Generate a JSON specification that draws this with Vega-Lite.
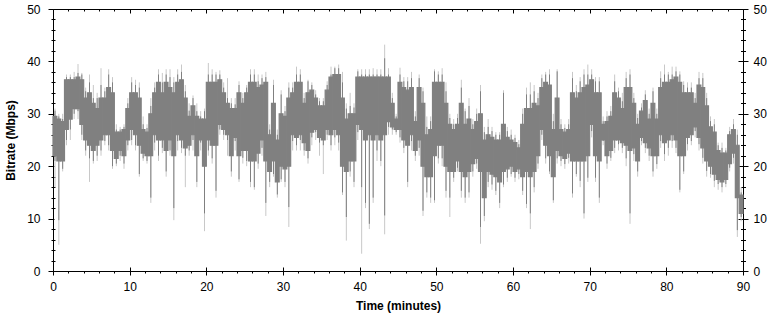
{
"$schema": "https://vega.github.io/schema/vega-lite/v6.json",
"width": 690, "height": 262,
"autosize": {"type": "none"},
"padding": {"left": 53, "top": 9, "right": 29, "bottom": 49},
"background": "white",
"config": {"view": {"stroke": null}, "axis": {"domainColor": "#000", "tickColor": "#000", "labelColor": "#000", "titleColor": "#000", "labelFont": "Liberation Sans", "titleFont": "Liberation Sans", "labelFontSize": 12, "titleFontSize": 12, "titleFontWeight": "bold", "grid": false, "domainWidth": 1, "tickWidth": 1, "labelFlush": false, "labelOverlap": false}},
"datasets": {"d": [
{"t":0,"t1":0.5,"lo":21,"hi":30.6,"llo":16,"lhi":31,"clo":22,"chi":29.5},
{"t":0.5,"t1":1,"lo":9.7,"hi":29.5,"llo":5,"lhi":30,"clo":21,"chi":29},
{"t":1,"t1":1.5,"lo":19.5,"hi":29,"llo":19,"lhi":30,"clo":21,"chi":28.5},
{"t":1.5,"t1":2,"lo":25,"hi":37,"llo":24,"lhi":37.5,"clo":27,"chi":36.5},
{"t":2,"t1":2.5,"lo":27,"hi":37,"llo":25,"lhi":37.5,"clo":29,"chi":36.5},
{"t":2.5,"t1":3,"lo":30,"hi":37,"llo":29,"lhi":38,"clo":31,"chi":36.5},
{"t":3,"t1":3.5,"lo":30.5,"hi":37.8,"llo":29,"lhi":39.5,"clo":31,"chi":37},
{"t":3.5,"t1":4,"lo":26,"hi":37.5,"llo":25,"lhi":37.8,"clo":28,"chi":36.5},
{"t":4,"t1":4.5,"lo":23,"hi":34.3,"llo":22,"lhi":35,"clo":25,"chi":33},
{"t":4.5,"t1":5,"lo":21.5,"hi":36,"llo":17,"lhi":37.5,"clo":24,"chi":34},
{"t":5,"t1":5.5,"lo":21,"hi":33,"llo":20.5,"lhi":35.5,"clo":23,"chi":32},
{"t":5.5,"t1":6,"lo":22,"hi":33,"llo":21,"lhi":34,"clo":24,"chi":31},
{"t":6,"t1":6.5,"lo":23,"hi":35.5,"llo":22,"lhi":38.7,"clo":25,"chi":33},
{"t":6.5,"t1":7,"lo":24.8,"hi":34.3,"llo":24,"lhi":35,"clo":26,"chi":33},
{"t":7,"t1":7.5,"lo":24,"hi":37.5,"llo":23,"lhi":38.5,"clo":26,"chi":35},
{"t":7.5,"t1":8,"lo":20,"hi":36,"llo":19.5,"lhi":37,"clo":23,"chi":34},
{"t":8,"t1":8.5,"lo":20.5,"hi":27,"llo":20,"lhi":28,"clo":21.5,"chi":26.5},
{"t":8.5,"t1":9,"lo":22,"hi":27,"llo":21,"lhi":27.5,"clo":23,"chi":26.5},
{"t":9,"t1":9.5,"lo":20.5,"hi":27.5,"llo":19.5,"lhi":28,"clo":22,"chi":27},
{"t":9.5,"t1":10,"lo":24,"hi":32,"llo":23,"lhi":33,"clo":25,"chi":31},
{"t":10,"t1":10.5,"lo":25,"hi":36,"llo":24,"lhi":37,"clo":27,"chi":34},
{"t":10.5,"t1":11,"lo":24,"hi":35.5,"llo":23,"lhi":36.5,"clo":26,"chi":34},
{"t":11,"t1":11.5,"lo":18.5,"hi":35,"llo":18,"lhi":36,"clo":24,"chi":33},
{"t":11.5,"t1":12,"lo":21.5,"hi":28,"llo":21,"lhi":29.5,"clo":22.5,"chi":27},
{"t":12,"t1":12.5,"lo":21,"hi":27.3,"llo":20.5,"lhi":28,"clo":22,"chi":26.5},
{"t":12.5,"t1":13,"lo":14,"hi":31.5,"llo":13,"lhi":33,"clo":22,"chi":30},
{"t":13,"t1":13.5,"lo":24.5,"hi":35,"llo":23,"lhi":36,"clo":26,"chi":34},
{"t":13.5,"t1":14,"lo":22,"hi":37.5,"llo":21,"lhi":38.5,"clo":25,"chi":36},
{"t":14,"t1":14.5,"lo":23.5,"hi":36,"llo":22.5,"lhi":37.8,"clo":25,"chi":34},
{"t":14.5,"t1":15,"lo":19,"hi":37.5,"llo":18,"lhi":38.5,"clo":23,"chi":36},
{"t":15,"t1":15.5,"lo":23,"hi":37,"llo":22,"lhi":38.5,"clo":25,"chi":35},
{"t":15.5,"t1":16,"lo":12,"hi":36,"llo":9.7,"lhi":37,"clo":22,"chi":34},
{"t":16,"t1":16.5,"lo":24.8,"hi":37.5,"llo":23,"lhi":38.5,"clo":26,"chi":36},
{"t":16.5,"t1":17,"lo":23.5,"hi":38,"llo":22.5,"lhi":39.4,"clo":25,"chi":36.5},
{"t":17,"t1":17.5,"lo":22,"hi":34.3,"llo":16,"lhi":35.5,"clo":23.5,"chi":33},
{"t":17.5,"t1":18,"lo":23,"hi":30.6,"llo":22,"lhi":32,"clo":24,"chi":29.5},
{"t":18,"t1":18.5,"lo":25,"hi":33,"llo":23,"lhi":33.5,"clo":26,"chi":31.5},
{"t":18.5,"t1":19,"lo":17,"hi":30.5,"llo":16,"lhi":32,"clo":22,"chi":29.5},
{"t":19,"t1":19.5,"lo":24.5,"hi":29.5,"llo":23,"lhi":30.5,"clo":25,"chi":29},
{"t":19.5,"t1":20,"lo":11,"hi":30.5,"llo":7.6,"lhi":31,"clo":20,"chi":29},
{"t":20,"t1":20.5,"lo":23,"hi":37.5,"llo":22,"lhi":39.7,"clo":25,"chi":36},
{"t":20.5,"t1":21,"lo":21.5,"hi":37.5,"llo":20.5,"lhi":38.5,"clo":24,"chi":36},
{"t":21,"t1":21.5,"lo":15.3,"hi":37.5,"llo":14,"lhi":38,"clo":24,"chi":36},
{"t":21.5,"t1":22,"lo":27,"hi":37.5,"llo":26,"lhi":38.3,"clo":28,"chi":36.5},
{"t":22,"t1":22.5,"lo":26,"hi":35,"llo":25,"lhi":36,"clo":27,"chi":34},
{"t":22.5,"t1":23,"lo":25,"hi":33,"llo":22,"lhi":36.8,"clo":26,"chi":32},
{"t":23,"t1":23.5,"lo":19,"hi":32,"llo":18,"lhi":33,"clo":22,"chi":31},
{"t":23.5,"t1":24,"lo":24.8,"hi":31.8,"llo":23,"lhi":33,"clo":25.5,"chi":31},
{"t":24,"t1":24.5,"lo":17.5,"hi":35.5,"llo":17,"lhi":36.2,"clo":22,"chi":34},
{"t":24.5,"t1":25,"lo":21.6,"hi":33,"llo":20.5,"lhi":34,"clo":23,"chi":32},
{"t":25,"t1":25.5,"lo":21,"hi":35,"llo":20,"lhi":35.5,"clo":23,"chi":34},
{"t":25.5,"t1":26,"lo":17,"hi":37.5,"llo":16,"lhi":38.5,"clo":21,"chi":36},
{"t":26,"t1":26.5,"lo":16,"hi":37.5,"llo":15.5,"lhi":38.5,"clo":21,"chi":36},
{"t":26.5,"t1":27,"lo":20.5,"hi":36.2,"llo":19.5,"lhi":37.5,"clo":22.5,"chi":35},
{"t":27,"t1":27.5,"lo":23.5,"hi":36.8,"llo":22,"lhi":37.5,"clo":25,"chi":35.5},
{"t":27.5,"t1":28,"lo":13,"hi":37,"llo":10.5,"lhi":38,"clo":21,"chi":36},
{"t":28,"t1":28.5,"lo":17,"hi":27,"llo":16,"lhi":28,"clo":19,"chi":26},
{"t":28.5,"t1":29,"lo":18.5,"hi":35.5,"llo":18,"lhi":36.5,"clo":21,"chi":32},
{"t":29,"t1":29.5,"lo":14.6,"hi":26,"llo":14,"lhi":27,"clo":17,"chi":25},
{"t":29.5,"t1":30,"lo":17.5,"hi":33.7,"llo":17,"lhi":34.5,"clo":20,"chi":30},
{"t":30,"t1":30.5,"lo":17,"hi":30.5,"llo":16,"lhi":31.5,"clo":19.5,"chi":29.5},
{"t":30.5,"t1":31,"lo":12.2,"hi":35,"llo":8.4,"lhi":36,"clo":20,"chi":33},
{"t":31,"t1":31.5,"lo":24.8,"hi":35,"llo":23,"lhi":36,"clo":26,"chi":34},
{"t":31.5,"t1":32,"lo":24,"hi":37.5,"llo":23,"lhi":39,"clo":25.5,"chi":36},
{"t":32,"t1":32.5,"lo":25,"hi":37.5,"llo":23,"lhi":38.5,"clo":26,"chi":36},
{"t":32.5,"t1":33,"lo":23,"hi":33,"llo":22,"lhi":34,"clo":24.5,"chi":32},
{"t":33,"t1":33.5,"lo":21.5,"hi":36.2,"llo":20.5,"lhi":36.5,"clo":23,"chi":34},
{"t":33.5,"t1":34,"lo":25.5,"hi":35.5,"llo":24,"lhi":36,"clo":26.5,"chi":34.5},
{"t":34,"t1":34.5,"lo":26.5,"hi":33.7,"llo":25,"lhi":34.5,"clo":27,"chi":33},
{"t":34.5,"t1":35,"lo":24.5,"hi":32.4,"llo":22,"lhi":33,"clo":25.5,"chi":31.5},
{"t":35,"t1":35.5,"lo":24,"hi":32.4,"llo":18.5,"lhi":33,"clo":25,"chi":31.5},
{"t":35.5,"t1":36,"lo":26,"hi":35.5,"llo":25,"lhi":36.2,"clo":27,"chi":34.5},
{"t":36,"t1":36.5,"lo":24,"hi":37.5,"llo":23,"lhi":39,"clo":26,"chi":37},
{"t":36.5,"t1":37,"lo":25.5,"hi":38.7,"llo":24,"lhi":39,"clo":27,"chi":37.5},
{"t":37,"t1":37.5,"lo":24.5,"hi":38.7,"llo":23,"lhi":39.4,"clo":26,"chi":37.5},
{"t":37.5,"t1":38,"lo":15,"hi":36,"llo":14.5,"lhi":38,"clo":20,"chi":33},
{"t":38,"t1":38.5,"lo":10.3,"hi":31,"llo":5.8,"lhi":32,"clo":19,"chi":29},
{"t":38.5,"t1":39,"lo":19,"hi":31.5,"llo":18,"lhi":34,"clo":21,"chi":30},
{"t":39,"t1":39.5,"lo":17,"hi":31.2,"llo":16,"lhi":32,"clo":21,"chi":30},
{"t":39.5,"t1":40,"lo":26.5,"hi":38.1,"llo":25,"lhi":38.5,"clo":28,"chi":37},
{"t":40,"t1":40.5,"lo":16,"hi":37.5,"llo":3.3,"lhi":38.5,"clo":27,"chi":37},
{"t":40.5,"t1":41,"lo":13,"hi":37.5,"llo":12,"lhi":38.5,"clo":25,"chi":37},
{"t":41,"t1":41.5,"lo":9,"hi":37.5,"llo":8,"lhi":38.5,"clo":26,"chi":37},
{"t":41.5,"t1":42,"lo":14,"hi":37.5,"llo":13,"lhi":38.7,"clo":25,"chi":37},
{"t":42,"t1":42.5,"lo":23,"hi":37.5,"llo":21,"lhi":38.5,"clo":26,"chi":37},
{"t":42.5,"t1":43,"lo":21,"hi":37.5,"llo":20,"lhi":38.5,"clo":25,"chi":37},
{"t":43,"t1":43.5,"lo":10.6,"hi":40.6,"llo":7,"lhi":43.2,"clo":26,"chi":37},
{"t":43.5,"t1":44,"lo":27.5,"hi":37.5,"llo":26,"lhi":38.7,"clo":28.5,"chi":37},
{"t":44,"t1":44.5,"lo":27,"hi":33,"llo":26,"lhi":34,"clo":27.5,"chi":32},
{"t":44.5,"t1":45,"lo":26.5,"hi":29.5,"llo":26,"lhi":30,"clo":27,"chi":29},
{"t":45,"t1":45.5,"lo":25.5,"hi":37.5,"llo":24.5,"lhi":38.8,"clo":27,"chi":36},
{"t":45.5,"t1":46,"lo":23.5,"hi":36.2,"llo":22.5,"lhi":37,"clo":25,"chi":35},
{"t":46,"t1":46.5,"lo":17,"hi":36.2,"llo":16,"lhi":37,"clo":24,"chi":34.5},
{"t":46.5,"t1":47,"lo":24.8,"hi":36.8,"llo":23,"lhi":38,"clo":26,"chi":35},
{"t":47,"t1":47.5,"lo":22,"hi":29.5,"llo":21,"lhi":30.5,"clo":23,"chi":28.5},
{"t":47.5,"t1":48,"lo":23.5,"hi":36.8,"llo":22,"lhi":37.5,"clo":25,"chi":35},
{"t":48,"t1":48.5,"lo":11.5,"hi":34.3,"llo":10.5,"lhi":35,"clo":20,"chi":32},
{"t":48.5,"t1":49,"lo":15,"hi":27.5,"llo":14,"lhi":29.5,"clo":18,"chi":26},
{"t":49,"t1":49.5,"lo":14,"hi":28.6,"llo":13,"lhi":29.5,"clo":18,"chi":27},
{"t":49.5,"t1":50,"lo":13.5,"hi":38.1,"llo":13,"lhi":38.5,"clo":22,"chi":36},
{"t":50,"t1":50.5,"lo":21.5,"hi":37.5,"llo":20.5,"lhi":38.1,"clo":24,"chi":36},
{"t":50.5,"t1":51,"lo":21.5,"hi":37.5,"llo":20,"lhi":38.7,"clo":24,"chi":36},
{"t":51,"t1":51.5,"lo":15.3,"hi":34.3,"llo":14,"lhi":36,"clo":20,"chi":32},
{"t":51.5,"t1":52,"lo":14,"hi":29.2,"llo":10.3,"lhi":30,"clo":19,"chi":28},
{"t":52,"t1":52.5,"lo":17.8,"hi":28,"llo":17,"lhi":29,"clo":19,"chi":27},
{"t":52.5,"t1":53,"lo":19.7,"hi":29.2,"llo":19,"lhi":30,"clo":21,"chi":28},
{"t":53,"t1":53.5,"lo":15.3,"hi":35,"llo":14,"lhi":36.5,"clo":19,"chi":32},
{"t":53.5,"t1":54,"lo":14,"hi":30.5,"llo":13,"lhi":31,"clo":18,"chi":28},
{"t":54,"t1":54.5,"lo":15,"hi":31.5,"llo":14,"lhi":33,"clo":19,"chi":29},
{"t":54.5,"t1":55,"lo":19,"hi":28,"llo":18,"lhi":29,"clo":20.5,"chi":27},
{"t":55,"t1":55.5,"lo":20.5,"hi":30,"llo":19.5,"lhi":31,"clo":21.5,"chi":28.5},
{"t":55.5,"t1":56,"lo":8.4,"hi":34.3,"llo":5.2,"lhi":35.5,"clo":19,"chi":30},
{"t":56,"t1":56.5,"lo":10.5,"hi":26.5,"llo":9.5,"lhi":27.5,"clo":14,"chi":25},
{"t":56.5,"t1":57,"lo":17,"hi":27.5,"llo":16,"lhi":29,"clo":19,"chi":26},
{"t":57,"t1":57.5,"lo":16.5,"hi":26.7,"llo":15.5,"lhi":27.5,"clo":18.5,"chi":25.5},
{"t":57.5,"t1":58,"lo":15.3,"hi":26,"llo":14.5,"lhi":26.5,"clo":18,"chi":25},
{"t":58,"t1":58.5,"lo":13,"hi":26,"llo":12,"lhi":26.5,"clo":17,"chi":25},
{"t":58.5,"t1":59,"lo":16.5,"hi":34,"llo":16,"lhi":34.5,"clo":19,"chi":28},
{"t":59,"t1":59.5,"lo":17.8,"hi":26.7,"llo":17,"lhi":27.5,"clo":19.5,"chi":25.5},
{"t":59.5,"t1":60,"lo":18.5,"hi":26,"llo":18,"lhi":27,"clo":20,"chi":25},
{"t":60,"t1":60.5,"lo":17.8,"hi":25.4,"llo":17,"lhi":26,"clo":19,"chi":24.5},
{"t":60.5,"t1":61,"lo":18.5,"hi":24.2,"llo":17.5,"lhi":25,"clo":19.5,"chi":23.5},
{"t":61,"t1":61.5,"lo":15.3,"hi":30,"llo":14.5,"lhi":31,"clo":18,"chi":28},
{"t":61.5,"t1":62,"lo":12.8,"hi":33.7,"llo":12,"lhi":35,"clo":19,"chi":31},
{"t":62,"t1":62.5,"lo":11,"hi":33.7,"llo":8,"lhi":36,"clo":18,"chi":31},
{"t":62.5,"t1":63,"lo":16,"hi":34.3,"llo":15,"lhi":35.5,"clo":19,"chi":32},
{"t":63,"t1":63.5,"lo":20.5,"hi":33,"llo":19.5,"lhi":34,"clo":22,"chi":31.5},
{"t":63.5,"t1":64,"lo":26,"hi":36.8,"llo":25,"lhi":37.5,"clo":27,"chi":35},
{"t":64,"t1":64.5,"lo":21.5,"hi":37.5,"llo":20.5,"lhi":38,"clo":24,"chi":36},
{"t":64.5,"t1":65,"lo":19,"hi":37.5,"llo":18.5,"lhi":38.5,"clo":22,"chi":35.5},
{"t":65,"t1":65.5,"lo":13.5,"hi":28.6,"llo":13,"lhi":30,"clo":18,"chi":27},
{"t":65.5,"t1":66,"lo":21.5,"hi":38.1,"llo":20.5,"lhi":38.5,"clo":23,"chi":33},
{"t":66,"t1":66.5,"lo":21,"hi":28,"llo":20,"lhi":29,"clo":22,"chi":27},
{"t":66.5,"t1":67,"lo":20.4,"hi":27.3,"llo":19.5,"lhi":28,"clo":21.5,"chi":26.5},
{"t":67,"t1":67.5,"lo":21.6,"hi":28,"llo":20.5,"lhi":29,"clo":22.5,"chi":27},
{"t":67.5,"t1":68,"lo":14.8,"hi":36.8,"llo":14,"lhi":38,"clo":21,"chi":34},
{"t":68,"t1":68.5,"lo":18.5,"hi":34.3,"llo":18,"lhi":35.5,"clo":21,"chi":33},
{"t":68.5,"t1":69,"lo":17.2,"hi":36.2,"llo":16,"lhi":37,"clo":21,"chi":34},
{"t":69,"t1":69.5,"lo":11,"hi":37.5,"llo":10,"lhi":38.5,"clo":21,"chi":35},
{"t":69.5,"t1":70,"lo":17.8,"hi":37.5,"llo":17,"lhi":39.4,"clo":22,"chi":35.5},
{"t":70,"t1":70.5,"lo":26.7,"hi":37.5,"llo":25.5,"lhi":38.5,"clo":28,"chi":36.5},
{"t":70.5,"t1":71,"lo":17.8,"hi":36.2,"llo":17,"lhi":37,"clo":22,"chi":34},
{"t":71,"t1":71.5,"lo":14,"hi":36.2,"llo":13,"lhi":37,"clo":21,"chi":34},
{"t":71.5,"t1":72,"lo":24.8,"hi":28.6,"llo":24,"lhi":29.5,"clo":25,"chi":28},
{"t":72,"t1":72.5,"lo":20.5,"hi":29.5,"llo":19.5,"lhi":30.5,"clo":22,"chi":28.5},
{"t":72.5,"t1":73,"lo":21.6,"hi":30.5,"llo":21,"lhi":31.5,"clo":23,"chi":29.5},
{"t":73,"t1":73.5,"lo":23.5,"hi":36.2,"llo":22.5,"lhi":37.5,"clo":25,"chi":34},
{"t":73.5,"t1":74,"lo":24.2,"hi":34.3,"llo":23,"lhi":35,"clo":25,"chi":33},
{"t":74,"t1":74.5,"lo":23.5,"hi":32.4,"llo":22.5,"lhi":34,"clo":24.5,"chi":31},
{"t":74.5,"t1":75,"lo":21.5,"hi":36.8,"llo":20,"lhi":38,"clo":24,"chi":35},
{"t":75,"t1":75.5,"lo":11,"hi":37.5,"llo":9,"lhi":38.5,"clo":23,"chi":35},
{"t":75.5,"t1":76,"lo":22.3,"hi":33,"llo":21,"lhi":34,"clo":23.5,"chi":32},
{"t":76,"t1":76.5,"lo":19,"hi":29.2,"llo":18,"lhi":30,"clo":21,"chi":28},
{"t":76.5,"t1":77,"lo":24.8,"hi":31.2,"llo":24,"lhi":32,"clo":25.5,"chi":30.5},
{"t":77,"t1":77.5,"lo":23.5,"hi":33.7,"llo":22.5,"lhi":34.5,"clo":24.5,"chi":32.5},
{"t":77.5,"t1":78,"lo":22,"hi":30,"llo":21,"lhi":31,"clo":23.5,"chi":29},
{"t":78,"t1":78.5,"lo":19,"hi":34.3,"llo":18,"lhi":35,"clo":22,"chi":32},
{"t":78.5,"t1":79,"lo":20.4,"hi":30,"llo":19.5,"lhi":31,"clo":22,"chi":29},
{"t":79,"t1":79.5,"lo":24.8,"hi":36.8,"llo":23.5,"lhi":38.1,"clo":26,"chi":35},
{"t":79.5,"t1":80,"lo":22.3,"hi":37.5,"llo":21,"lhi":39.4,"clo":24.5,"chi":36},
{"t":80,"t1":80.5,"lo":23.5,"hi":37.5,"llo":22,"lhi":38,"clo":25,"chi":36},
{"t":80.5,"t1":81,"lo":24.8,"hi":37.5,"llo":23.5,"lhi":39,"clo":26,"chi":36.5},
{"t":81,"t1":81.5,"lo":23.5,"hi":38.1,"llo":22.5,"lhi":39,"clo":25,"chi":37},
{"t":81.5,"t1":82,"lo":15.5,"hi":37.5,"llo":15,"lhi":38.1,"clo":22,"chi":36},
{"t":82,"t1":82.5,"lo":19,"hi":35.5,"llo":18.5,"lhi":36.2,"clo":22,"chi":34},
{"t":82.5,"t1":83,"lo":24.2,"hi":35,"llo":23,"lhi":36,"clo":25.5,"chi":34},
{"t":83,"t1":83.5,"lo":24.8,"hi":35,"llo":24,"lhi":36,"clo":26,"chi":34},
{"t":83.5,"t1":84,"lo":26.7,"hi":33,"llo":25.5,"lhi":34,"clo":27.5,"chi":32},
{"t":84,"t1":84.5,"lo":24.2,"hi":36.8,"llo":23,"lhi":38,"clo":25.5,"chi":35.5},
{"t":84.5,"t1":85,"lo":21.6,"hi":36.8,"llo":20.5,"lhi":37.8,"clo":23.5,"chi":35},
{"t":85,"t1":85.5,"lo":19.1,"hi":33,"llo":18,"lhi":34,"clo":21,"chi":31.5},
{"t":85.5,"t1":86,"lo":18.5,"hi":28.6,"llo":17.8,"lhi":29.5,"clo":20,"chi":27.5},
{"t":86,"t1":86.5,"lo":17.2,"hi":28,"llo":16,"lhi":29,"clo":18.5,"chi":26.5},
{"t":86.5,"t1":87,"lo":16.6,"hi":24,"llo":15.5,"lhi":24.5,"clo":17.5,"chi":23},
{"t":87,"t1":87.5,"lo":16,"hi":23.5,"llo":15,"lhi":24.5,"clo":17,"chi":22.5},
{"t":87.5,"t1":88,"lo":16.6,"hi":23,"llo":16,"lhi":23.5,"clo":17.5,"chi":22.5},
{"t":88,"t1":88.5,"lo":19.7,"hi":26.7,"llo":19,"lhi":27.5,"clo":20.5,"chi":26},
{"t":88.5,"t1":89,"lo":21.6,"hi":28,"llo":20.5,"lhi":29,"clo":22.5,"chi":27},
{"t":89,"t1":89.5,"lo":7.8,"hi":26,"llo":6.5,"lhi":27,"clo":14,"chi":24},
{"t":89.5,"t1":90,"lo":10.3,"hi":15,"llo":9.5,"lhi":16,"clo":11,"chi":14.5}
]},
"data": {"name": "d"},
"resolve": {"axis": {"x": "independent", "y": "independent"}},
"layer": [
{"mark": {"type": "rule", "color": "#c8c8c8", "strokeWidth": 1, "xOffset": 2},
 "encoding": {
  "x": {"field": "t", "type": "quantitative", "scale": {"domain": [0, 90], "nice": false, "zero": false}, "axis": {"orient": "bottom", "values": [0,10,20,30,40,50,60,70,80,90], "tickSize": 4, "labelPadding": 6, "title": "Time (minutes)", "titlePadding": 8}},
  "y": {"field": "llo", "type": "quantitative", "scale": {"domain": [0, 50], "nice": false, "zero": false}, "axis": {"orient": "left", "values": [0,10,20,30,40,50], "tickSize": 5, "labelPadding": 8, "title": "Bitrate (Mbps)", "titlePadding": 9}},
  "y2": {"field": "lhi"}
 }},
{"mark": {"type": "rule", "color": "#808080", "strokeWidth": 1, "xOffset": 2},
 "encoding": {
  "x": {"field": "t", "type": "quantitative", "axis": null},
  "y": {"field": "lo", "type": "quantitative", "axis": null},
  "y2": {"field": "hi"}
 }},
{"mark": {"type": "bar", "color": "#808080", "stroke": "#808080", "strokeWidth": 1.2, "strokeOpacity": 1},
 "encoding": {
  "x": {"field": "t", "type": "quantitative", "axis": {"orient": "bottom", "values": [0,10,20,30,40,50,60,70,80,90], "tickSize": -4, "labels": false, "domain": false, "title": null}},
  "x2": {"field": "t1"},
  "y": {"field": "clo", "type": "quantitative", "axis": {"orient": "left", "values": [0,10,20,30,40,50], "tickSize": -1, "labels": false, "domain": false, "title": null}},
  "y2": {"field": "chi"}
 }},
{"mark": {"type": "rule", "opacity": 0},
 "encoding": {
  "x": {"field": "t", "type": "quantitative", "axis": {"orient": "top", "values": [0,10,20,30,40,50,60,70,80,90], "tickSize": -4, "labels": false, "domain": true, "title": null}},
  "y": {"field": "hi", "type": "quantitative", "axis": {"orient": "right", "values": [0,10,20,30,40,50], "tickSize": 5, "labelPadding": 5, "domain": true, "title": null}}
 }},
{"mark": {"type": "rule", "opacity": 0},
 "encoding": {
  "x": {"field": "t", "type": "quantitative", "axis": {"orient": "top", "values": [2,4,6,8,12,14,16,18,22,24,26,28,32,34,36,38,42,44,46,48,52,54,56,58,62,64,66,68,72,74,76,78,82,84,86,88], "tickSize": -2, "labels": false, "domain": false, "title": null}},
  "y": {"field": "hi", "type": "quantitative", "axis": {"orient": "right", "values": [0,10,20,30,40,50], "tickSize": -5, "labels": false, "domain": false, "title": null}}
 }},
{"mark": {"type": "rule", "opacity": 0},
 "encoding": {
  "x": {"field": "t", "type": "quantitative", "axis": {"orient": "bottom", "values": [2,4,6,8,12,14,16,18,22,24,26,28,32,34,36,38,42,44,46,48,52,54,56,58,62,64,66,68,72,74,76,78,82,84,86,88], "tickSize": 2, "labels": false, "domain": false, "title": null}},
  "y": {"field": "hi", "type": "quantitative", "axis": {"orient": "right", "values": [2,4,6,8,12,14,16,18,22,24,26,28,32,34,36,38,42,44,46,48], "tickSize": 2.5, "labels": false, "domain": false, "title": null}}
 }},
{"mark": {"type": "rule", "opacity": 0},
 "encoding": {
  "x": {"field": "t", "type": "quantitative", "axis": null},
  "y": {"field": "hi", "type": "quantitative", "axis": {"orient": "right", "values": [2,4,6,8,12,14,16,18,22,24,26,28,32,34,36,38,42,44,46,48], "tickSize": -2.5, "labels": false, "domain": false, "title": null}}
 }},
{"mark": {"type": "rule", "opacity": 0},
 "encoding": {
  "x": {"field": "t", "type": "quantitative", "axis": null},
  "y": {"field": "hi", "type": "quantitative", "axis": {"orient": "left", "values": [2,4,6,8,12,14,16,18,22,24,26,28,32,34,36,38,42,44,46,48], "tickSize": 2, "labels": false, "domain": false, "title": null}}
 }},
{"mark": {"type": "rule", "opacity": 0},
 "encoding": {
  "x": {"field": "t", "type": "quantitative", "axis": null},
  "y": {"field": "hi", "type": "quantitative", "axis": {"orient": "left", "values": [2,4,6,8,12,14,16,18,22,24,26,28,32,34,36,38,42,44,46,48], "tickSize": -2, "labels": false, "domain": false, "title": null}}
 }}
]
}
